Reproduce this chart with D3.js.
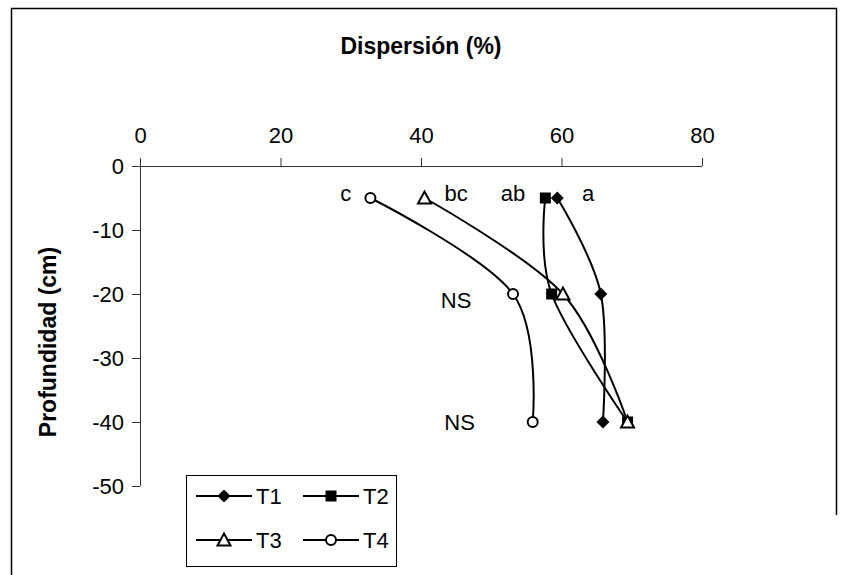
<!DOCTYPE html>
<html><head><meta charset="utf-8">
<script src="https://cdn.jsdelivr.net/npm/d3@7"></script>
<style>body{margin:0;background:#fff}svg{display:block;font-family:"Liberation Sans",Arial,sans-serif}</style>
</head><body>
<svg id="c" width="843" height="575"></svg>
<script>
const depths = [-5, -20, -40];
const seriesNames = ["T1", "T2", "T3", "T4"];
const t1 = [59.4, 65.6, 65.9];
const t2 = [57.7, 58.6, 69.4];
const t3 = [40.5, 60.2, 69.4];
const t4 = [32.8, 53.1, 55.9];
const seriesValues = [t1, t2, t3, t4];
const markerTypes = ["diamond", "square", "triangle", "circle"];
const xTicks = [0, 20, 40, 60, 80];
const yTicks = [0, -10, -20, -30, -40, -50];
const topLetters = [{t:"c", v:29.3}, {t:"bc", v:45.0}, {t:"ab", v:53.1}, {t:"a", v:63.8}];
const nsLabels = [{t:"NS", v:45.0, d:-21}, {t:"NS", v:45.5, d:-40}];

const svg = d3.select("#c");
const x = d3.scaleLinear().domain([0, 80]).range([140, 702]);
const y = d3.scaleLinear().domain([0, -50]).range([166, 486]);
const FS = 22;

// frame
svg.append("path").attr("d", "M11.5,575 V8.5 H836.5 V515").attr("fill","none").attr("stroke","#000").attr("stroke-width",1.5);

// title
svg.append("text").attr("x", 421).attr("y", 54).attr("text-anchor","middle")
  .attr("font-weight","bold").attr("font-size", 23).text("Dispersión (%)");
svg.append("text").attr("transform","translate(56,342) rotate(-90)").attr("text-anchor","middle")
  .attr("font-weight","bold").attr("font-size", 23).text("Profundidad (cm)");

// x axis (top)
const xa = svg.append("g").attr("transform", `translate(0,${y(0)})`)
  .call(d3.axisTop(x).tickValues(xTicks).tickSize(8).tickSizeOuter(0).tickPadding(15));
xa.select(".domain").attr("d", `M${x(0)-8},0.5H${x(80)}`).attr("stroke","#333");
xa.selectAll(".tick line").attr("stroke","#333");
xa.selectAll(".tick").filter(d => d === 0).select("line").attr("y1", 8).attr("y2", -8);
xa.selectAll("text").attr("font-size", FS).attr("font-family","Liberation Sans, Arial, sans-serif").attr("fill","#000");

// y axis
const ya = svg.append("g").attr("transform", `translate(${x(0)},0)`)
  .call(d3.axisLeft(y).tickValues(yTicks).tickSize(8).tickSizeOuter(0).tickPadding(8).tickFormat(d => String(d)));
ya.select(".domain").attr("d", `M0.5,${y(0)-8}V${y(-50)}`).attr("stroke","#333");
ya.selectAll(".tick line").attr("stroke","#333");
ya.selectAll(".tick").filter(d => d === 0).select("line").attr("x2", 0);
ya.selectAll("text").attr("font-size", FS).attr("font-family","Liberation Sans, Arial, sans-serif").attr("fill","#000");

const line = d3.line().curve(d3.curveCardinal.tension(0)).x(d => x(d[0])).y(d => y(d[1]));

function marker(g, type, cx, cy) {
  if (type === "diamond") {
    g.append("path").attr("d", `M${cx},${cy-6.5}L${cx+6.5},${cy}L${cx},${cy+6.5}L${cx-6.5},${cy}Z`).attr("fill","#000");
  } else if (type === "square") {
    g.append("rect").attr("x", cx-5.5).attr("y", cy-5.5).attr("width", 11).attr("height", 11).attr("fill","#000");
  } else if (type === "triangle") {
    g.append("path").attr("d", `M${cx},${cy-6.5}L${cx+6.5},${cy+5.5}L${cx-6.5},${cy+5.5}Z`).attr("fill","#fff").attr("stroke","#000").attr("stroke-width",2);
  } else {
    g.append("circle").attr("cx", cx).attr("cy", cy).attr("r", 5).attr("fill","#fff").attr("stroke","#000").attr("stroke-width",2);
  }
}

const plot = svg.append("g");
seriesValues.forEach((vals, i) => {
  const pts = vals.map((v, j) => [v, depths[j]]);
  plot.append("path").attr("d", line(pts)).attr("fill","none").attr("stroke","#000").attr("stroke-width",2);
});
seriesValues.forEach((vals, i) => {
  vals.forEach((v, j) => marker(plot, markerTypes[i], x(v), y(depths[j])));
});

// letters
topLetters.forEach(l => svg.append("text").attr("x", x(l.v)).attr("y", y(-5)+3).attr("text-anchor","middle")
  .attr("font-size", FS).text(l.t));
nsLabels.forEach(l => svg.append("text").attr("x", x(l.v)).attr("y", y(l.d)+8).attr("text-anchor","middle")
  .attr("font-size", FS).text(l.t));

// legend
const lg = svg.append("g");
lg.append("rect").attr("x", 186.5).attr("y", 475.5).attr("width", 210).attr("height", 91)
  .attr("fill","#fff").attr("stroke","#000").attr("stroke-width",1);
const legPos = [[196, 496], [303, 496], [196, 540], [303, 540]];
seriesNames.forEach((n, i) => {
  const [lx, ly] = legPos[i];
  lg.append("line").attr("x1", lx).attr("x2", lx+56).attr("y1", ly).attr("y2", ly).attr("stroke","#000").attr("stroke-width",2);
  marker(lg, markerTypes[i], lx+28, ly);
  lg.append("text").attr("x", lx+60).attr("y", ly+8).attr("font-size", FS).text(n);
});
</script>
</body></html>
